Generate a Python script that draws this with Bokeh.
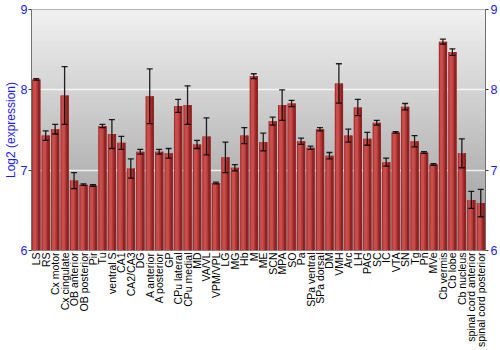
import math
from bokeh.plotting import figure
from bokeh.models import (ColumnDataSource, FactorRange, Range1d, LinearAxis, FixedTicker,
                          BoxAnnotation, Span, Whisker, TeeHead)
from bokeh.transform import dodge
from bokeh.embed import file_html
from bokeh.resources import INLINE

categories = ["LS", "RS", "Cx motor", "Cx cingulate", "OB anterior", "OB posterior", "Pir", "Tu",
              "ventral S", "CA1", "CA2/CA3", "DG", "A anterior", "A posterior", "GP", "CPu lateral",
              "CPu medial", "MD", "VA/VL", "VPM/VPL", "LG", "MG", "Hb", "M", "ME", "SCN", "MPA", "SO",
              "Pa", "SPa ventral", "SPa dorsal", "DM", "VMH", "Arc", "LH", "PAG", "SC", "IC", "VTA",
              "SN", "Tg", "Pn", "MVe", "Cb vermis", "Cb lobe", "Cb nucleus", "spinal cord anterior",
              "spinal cord posterior"]
values = [8.13, 7.43, 7.51, 7.93, 6.87, 6.82, 6.81, 7.55, 7.45, 7.34, 7.02, 7.23, 7.92, 7.23, 7.21,
          7.80, 7.81, 7.32, 7.42, 6.84, 7.16, 7.03, 7.43, 8.17, 7.35, 7.61, 7.81, 7.83, 7.36, 7.28,
          7.51, 7.18, 8.08, 7.43, 7.78, 7.39, 7.59, 7.10, 7.47, 7.79, 7.36, 7.22, 7.07, 8.60, 8.47,
          7.21, 6.63, 6.59]
errors = [0.01, 0.06, 0.06, 0.36, 0.10, 0.01, 0.01, 0.02, 0.18, 0.08, 0.12, 0.03, 0.34, 0.03, 0.06,
          0.08, 0.24, 0.05, 0.23, 0.01, 0.19, 0.04, 0.10, 0.03, 0.11, 0.05, 0.19, 0.04, 0.04, 0.02,
          0.02, 0.04, 0.245, 0.08, 0.10, 0.08, 0.03, 0.05, 0.01, 0.04, 0.07, 0.01, 0.01, 0.03, 0.04,
          0.18, 0.105, 0.17]
y_ticks = [6, 7, 8, 9]
y_min, y_max = 6, 9

src = ColumnDataSource(dict(
    cats=categories, top=values,
    upper=[v + e for v, e in zip(values, errors)],
    lower=[v - e for v, e in zip(values, errors)],
))

p = figure(width=500, height=350, output_backend="svg", toolbar_location=None,
           x_range=FactorRange(*categories, range_padding=0),
           y_range=Range1d(y_min, y_max),
           min_border_left=20, min_border_right=14, min_border_top=9, min_border_bottom=99)
p.outline_line_color = None
p.background_fill_color = "white"
p.border_fill_color = "white"

# background vertical gradient (stacked boxes, each lower one painted over the previous)
n = 60
top_c = (0xf1, 0xf1, 0xf1)
bot_c = (0x98, 0x98, 0x98)
for i in range(n):
    t = (i + 0.5) / n
    c = tuple(int(round(top_c[k] + (bot_c[k] - top_c[k]) * t)) for k in range(3))
    hi = y_max - (y_max - y_min) * i / n
    p.add_layout(BoxAnnotation(top=hi, bottom=y_min, fill_color="#%02x%02x%02x" % c, fill_alpha=1,
                               line_color=None, level="image"))

p.ygrid.ticker = FixedTicker(ticks=y_ticks)
p.ygrid.grid_line_color = "white"
p.ygrid.grid_line_alpha = 0.8
p.ygrid.grid_line_width = 1.5
p.xgrid.grid_line_color = None

# bars with a cylindrical shading
p.vbar(x="cats", top="top", bottom=y_min, width=0.88, source=src, fill_color="#b43838", line_color=None)
p.vbar(x=dodge("cats", -0.36, range=p.x_range), top="top", bottom=y_min, width=0.08, source=src,
       fill_color="#9c2c2c", line_color=None)
p.vbar(x=dodge("cats", -0.15, range=p.x_range), top="top", bottom=y_min, width=0.34, source=src,
       fill_color="#c84e4e", line_color=None)
p.vbar(x=dodge("cats", 0.31, range=p.x_range), top="top", bottom=y_min, width=0.26, source=src,
       fill_color="#8c2424", line_color=None)

w = Whisker(base="cats", upper="upper", lower="lower", source=src, line_color="black",
            line_alpha=0.85, line_width=1.3, level="overlay",
            upper_head=TeeHead(size=6, line_color="black", line_alpha=0.85, line_width=1.3),
            lower_head=TeeHead(size=6, line_color="black", line_alpha=0.85, line_width=1.3))
p.add_layout(w)

p.add_layout(Span(location=y_max, dimension="width", line_color="#707070", line_width=1.2))

blue = "#1a1aff"
ya = p.yaxis[0]
ya.ticker = FixedTicker(ticks=y_ticks)
ya.axis_label = "Log2 (expression)"
ya.axis_label_text_color = blue
ya.axis_label_text_font = "Liberation Sans"
ya.axis_label_text_font_size = "12px"
ya.axis_label_text_font_style = "normal"
ya.axis_label_standoff = 0
ya.major_label_text_color = blue
ya.major_label_text_font = "Liberation Sans"
ya.major_label_text_font_size = "12.5px"
ya.major_label_standoff = 1
ya.major_tick_out = 3
ya.major_tick_in = 0
ya.minor_tick_out = 0
ya.minor_tick_in = 0
ya.axis_line_color = "#707070"
ya.major_tick_line_color = "#404040"

ra = LinearAxis(ticker=FixedTicker(ticks=y_ticks))
ra.major_label_text_color = blue
ra.major_label_text_font = "Liberation Sans"
ra.major_label_text_font_size = "12.5px"
ra.major_label_standoff = 2
ra.major_tick_out = 3
ra.major_tick_in = 0
ra.minor_tick_out = 0
ra.minor_tick_in = 0
ra.axis_line_color = "#707070"
ra.major_tick_line_color = "#404040"
p.add_layout(ra, "right")

xa = p.xaxis[0]
xa.major_label_orientation = math.pi / 2
xa.major_label_text_font = "Liberation Sans"
xa.major_label_text_font_size = "10.5px"
xa.major_label_text_color = "black"
xa.major_label_standoff = 2
xa.major_tick_out = 0
xa.major_tick_in = 0
xa.axis_line_color = None

open("out.html", "w").write(file_html(p, INLINE))
